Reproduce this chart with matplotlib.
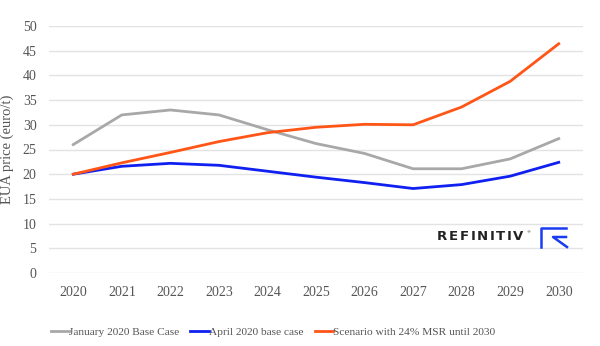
import matplotlib
matplotlib.use("Agg")
import matplotlib.pyplot as plt
from matplotlib.lines import Line2D

years = list(range(2020, 2031))
jan_2020_base = [26, 32, 33, 32, 29, 26.2, 24.2, 21.1, 21.1, 23.1, 27.2]
apr_2020_base = [20, 21.6, 22.2, 21.8, 20.6, 19.4, 18.3, 17.1, 17.9, 19.6, 22.4]
msr_scenario = [20, 22.3, 24.4, 26.6, 28.4, 29.5, 30.1, 30.0, 33.6, 38.8, 46.4]
series_labels = ["January 2020 Base Case", "April 2020 base case",
                 "Scenario with 24% MSR until 2030"]
y_ticks = list(range(0, 55, 5))

plt.rcParams['font.family'] = ['Liberation Serif', 'DejaVu Serif']

fig = plt.figure(figsize=(6.0, 3.46), dpi=100)
ax = fig.add_axes([49 / 600, 1 - 273 / 346, 534 / 600, (273 - 26) / 346])

ax.plot(years, jan_2020_base, color="#A8A8A8", lw=2, label=series_labels[0])
ax.plot(years, apr_2020_base, color="#1020F0", lw=2, label=series_labels[1])
ax.plot(years, msr_scenario, color="#FF5516", lw=2, label=series_labels[2])

ax.set_xlim(2019.5, 2030.5)
ax.set_ylim(0, 50)
ax.set_yticks(y_ticks)
ax.set_xticks(years)
ax.grid(axis="y", color="#E3E3E3", lw=1)
ax.set_axisbelow(True)
for s in ax.spines.values():
    s.set_visible(False)
ax.tick_params(axis="both", length=0, labelsize=10, colors="#555555")
ax.tick_params(axis="y", pad=9)
ax.tick_params(axis="x", pad=9)
ax.set_ylabel("EUA price (euro/t)", fontsize=10.5, color="#555555", labelpad=6)

ax.legend(loc="center left", bbox_to_anchor=(-3 / 534, -59 / 247), ncol=3,
          frameon=False, fontsize=8.2, handlelength=1.6, handletextpad=0.0,
          columnspacing=1.0, labelcolor="#555555", borderaxespad=0)

# Refinitiv logo: letter-spaced wordmark
renderer = fig.canvas.get_renderer()
x_px = 437.0
tracking = 1.6
for ch in "REFINITIV":
    t = fig.text(x_px / 600, 1 - 237 / 346, ch, family="DejaVu Sans",
                 fontsize=9.5, fontweight="semibold", color="#222222",
                 va="center", ha="left")
    x_px += t.get_window_extent(renderer).width + tracking
fig.text((x_px + 1) / 600, 1 - 232 / 346, "®", family="DejaVu Sans",
         fontsize=3, color="#222222", va="center")
logo_blue = "#1A3CF0"
fig.add_artist(Line2D([541 / 600, 541 / 600, 566 / 600],
                      [1 - 247 / 346, 1 - 228 / 346, 1 - 228 / 346],
                      color=logo_blue, lw=1.8, transform=fig.transFigure))
fig.add_artist(Line2D([566 / 600, 553 / 600, 567 / 600],
                      [1 - 237 / 346, 1 - 237 / 346, 1 - 247 / 346],
                      color=logo_blue, lw=1.8, transform=fig.transFigure))

fig.savefig("out.png", dpi=100)
